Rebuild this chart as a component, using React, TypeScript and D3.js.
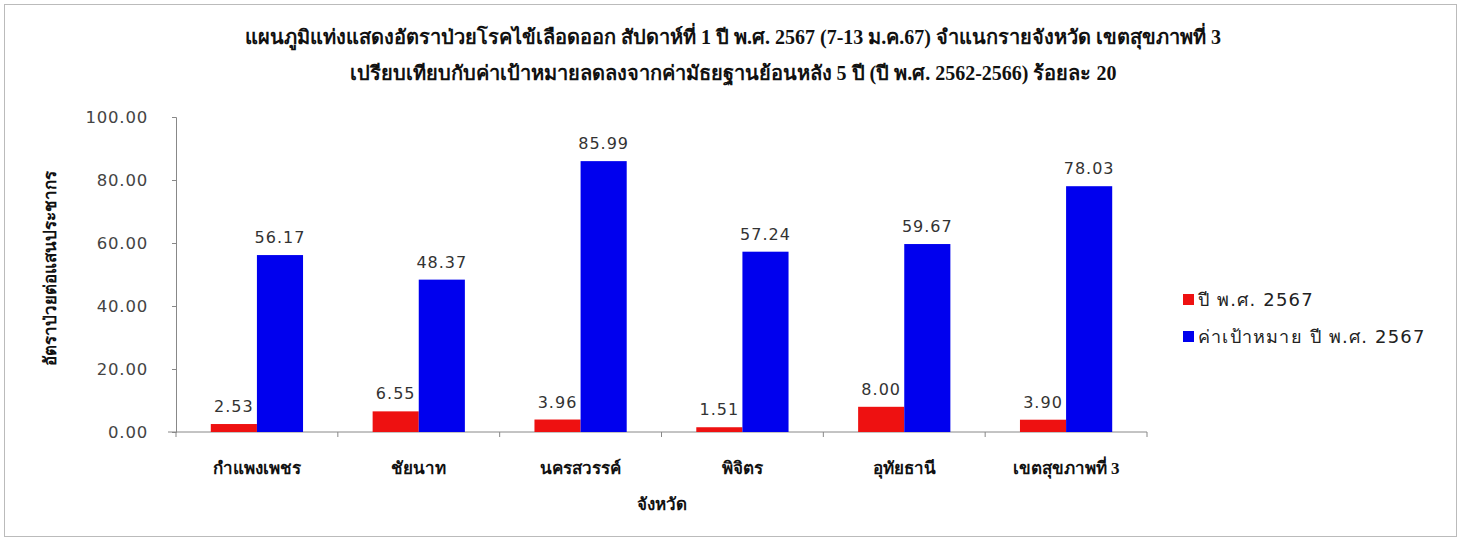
import { useEffect, useRef } from 'react';
import * as d3 from 'd3';

const provinces = ['กำแพงเพชร', 'ชัยนาท', 'นครสวรรค์', 'พิจิตร', 'อุทัยธานี', 'เขตสุขภาพที่ 3'];
const rate2567 = [2.53, 6.55, 3.96, 1.51, 8.0, 3.9];
const target2567 = [56.17, 48.37, 85.99, 57.24, 59.67, 78.03];
const seriesNames = ['ปี พ.ศ. 2567', 'ค่าเป้าหมาย ปี พ.ศ. 2567'];
const seriesColors = ['#ee1111', '#0000ee'];
const yTicks = [0, 20, 40, 60, 80, 100];
const titleLines = [
  'แผนภูมิแท่งแสดงอัตราป่วยโรคไข้เลือดออก สัปดาห์ที่ 1 ปี พ.ศ. 2567 (7-13 ม.ค.67) จำแนกรายจังหวัด เขตสุขภาพที่ 3',
  'เปรียบเทียบกับค่าเป้าหมายลดลงจากค่ามัธยฐานย้อนหลัง 5 ปี (ปี พ.ศ. 2562-2566) ร้อยละ 20',
];

export default function App() {
  const svgRef = useRef<SVGSVGElement>(null);
  const width = 1461;
  const height = 540;

  useEffect(() => {
    if (!svgRef.current) return;
    const svg = d3.select(svgRef.current);
    svg.selectAll('*').remove();

    const margin = { top: 117, right: 314, bottom: 108, left: 176 };
    const innerWidth = width - margin.left - margin.right;
    const innerHeight = height - margin.top - margin.bottom;

    // background + frame
    svg.append('rect')
      .attr('x', 4.5).attr('y', 4.5)
      .attr('width', width - 9).attr('height', height - 8)
      .attr('fill', '#fff')
      .attr('stroke', '#bbb');

    // title
    const thaiBold = "'Liberation Serif', 'Noto Sans', serif";
    svg.selectAll('.title')
      .data(titleLines)
      .enter()
      .append('text')
      .attr('class', 'title')
      .attr('x', 733)
      .attr('y', (d, i) => 44 + i * 36)
      .attr('text-anchor', 'middle')
      .attr('font-family', thaiBold)
      .attr('font-weight', 'bold')
      .attr('font-size', 20)
      .attr('fill', '#111')
      .text(d => d);

    const g = svg.append('g')
      .attr('transform', `translate(${margin.left},${margin.top})`);

    const x0 = d3.scaleBand()
      .domain(provinces)
      .range([0, innerWidth])
      .paddingInner(0.43)
      .paddingOuter(0.215);

    const x1 = d3.scaleBand()
      .domain(['a', 'b'])
      .range([0, x0.bandwidth()]);

    const y = d3.scaleLinear()
      .domain([0, 100])
      .range([innerHeight, 0]);

    // y axis
    const yAxis = d3.axisLeft(y)
      .tickValues(yTicks)
      .tickFormat(d3.format('.2f'))
      .tickSize(4)
      .tickPadding(24);

    const ya = g.append('g').call(yAxis);
    ya.selectAll('.domain').attr('stroke', '#888');
    ya.selectAll('.tick line').attr('stroke', '#888');
    ya.selectAll('.tick text')
      .attr('font-family', 'Verdana, DejaVu Sans, sans-serif')
      .attr('font-size', 16.5)
      .attr('letter-spacing', 0.8)
      .attr('fill', '#444');

    // x axis
    const xStep = innerWidth / provinces.length;
    const xa = g.append('g').attr('transform', `translate(0,${innerHeight})`);
    xa.append('line')
      .attr('x1', -8).attr('x2', innerWidth)
      .attr('stroke', '#888');
    xa.selectAll('.xtick')
      .data(d3.range(provinces.length + 1))
      .enter()
      .append('line')
      .attr('x1', d => d * xStep).attr('x2', d => d * xStep)
      .attr('y1', 0).attr('y2', 5)
      .attr('stroke', '#888');
    xa.selectAll('.xlabel')
      .data(provinces)
      .enter()
      .append('text')
      .attr('x', d => (x0(d) || 0) + x0.bandwidth() / 2)
      .attr('y', 42)
      .attr('text-anchor', 'middle')
      .attr('font-family', thaiBold)
      .attr('font-weight', 'bold')
      .attr('font-size', 17)
      .attr('fill', '#111')
      .text(d => d);

    // bars
    const groups = g.selectAll('.grp')
      .data(provinces)
      .enter()
      .append('g')
      .attr('transform', d => `translate(${x0(d)},0)`);

    groups.each(function (d, i) {
      const vals = [rate2567[i], target2567[i]];
      const sel = d3.select(this);
      vals.forEach((v, j) => {
        const bx = x1(j === 0 ? 'a' : 'b') || 0;
        sel.append('rect')
          .attr('x', bx)
          .attr('y', y(v))
          .attr('width', x1.bandwidth())
          .attr('height', innerHeight - y(v))
          .attr('fill', seriesColors[j]);
        sel.append('text')
          .attr('x', bx + x1.bandwidth() / 2)
          .attr('y', y(v) - 12)
          .attr('text-anchor', 'middle')
          .attr('font-family', 'Verdana, DejaVu Sans, sans-serif')
          .attr('font-size', 16)
          .attr('letter-spacing', 1)
          .attr('fill', '#333')
          .text(d3.format('.2f')(v));
      });
    });

    // axis titles
    svg.append('text')
      .attr('transform', `translate(56,${margin.top + innerHeight / 2 - 6}) rotate(-90)`)
      .attr('text-anchor', 'middle')
      .attr('font-family', thaiBold)
      .attr('font-weight', 'bold')
      .attr('font-size', 17)
      .attr('fill', '#111')
      .text('อัตราป่วยต่อแสนประชากร');

    svg.append('text')
      .attr('x', margin.left + innerWidth / 2)
      .attr('y', 510)
      .attr('text-anchor', 'middle')
      .attr('font-family', thaiBold)
      .attr('font-weight', 'bold')
      .attr('font-size', 17)
      .attr('fill', '#111')
      .text('จังหวัด');

    // legend
    const legend = svg.append('g').attr('transform', 'translate(1183,300)');
    seriesNames.forEach((name, i) => {
      const row = legend.append('g').attr('transform', `translate(0,${i * 37})`);
      row.append('rect')
        .attr('x', 0).attr('y', -6)
        .attr('width', 11).attr('height', 11)
        .attr('fill', seriesColors[i]);
      row.append('text')
        .attr('x', 15)
        .attr('y', 6)
        .attr('font-family', 'Verdana, DejaVu Sans, sans-serif')
        .attr('font-size', 18)
        .attr('letter-spacing', 1.2)
        .attr('fill', '#222')
        .text(name);
    });
  }, []);

  return (
    <svg
      ref={svgRef}
      width={width}
      height={height}
      style={{ position: 'absolute', left: 0, top: 0, display: 'block' }}
    />
  );
}
